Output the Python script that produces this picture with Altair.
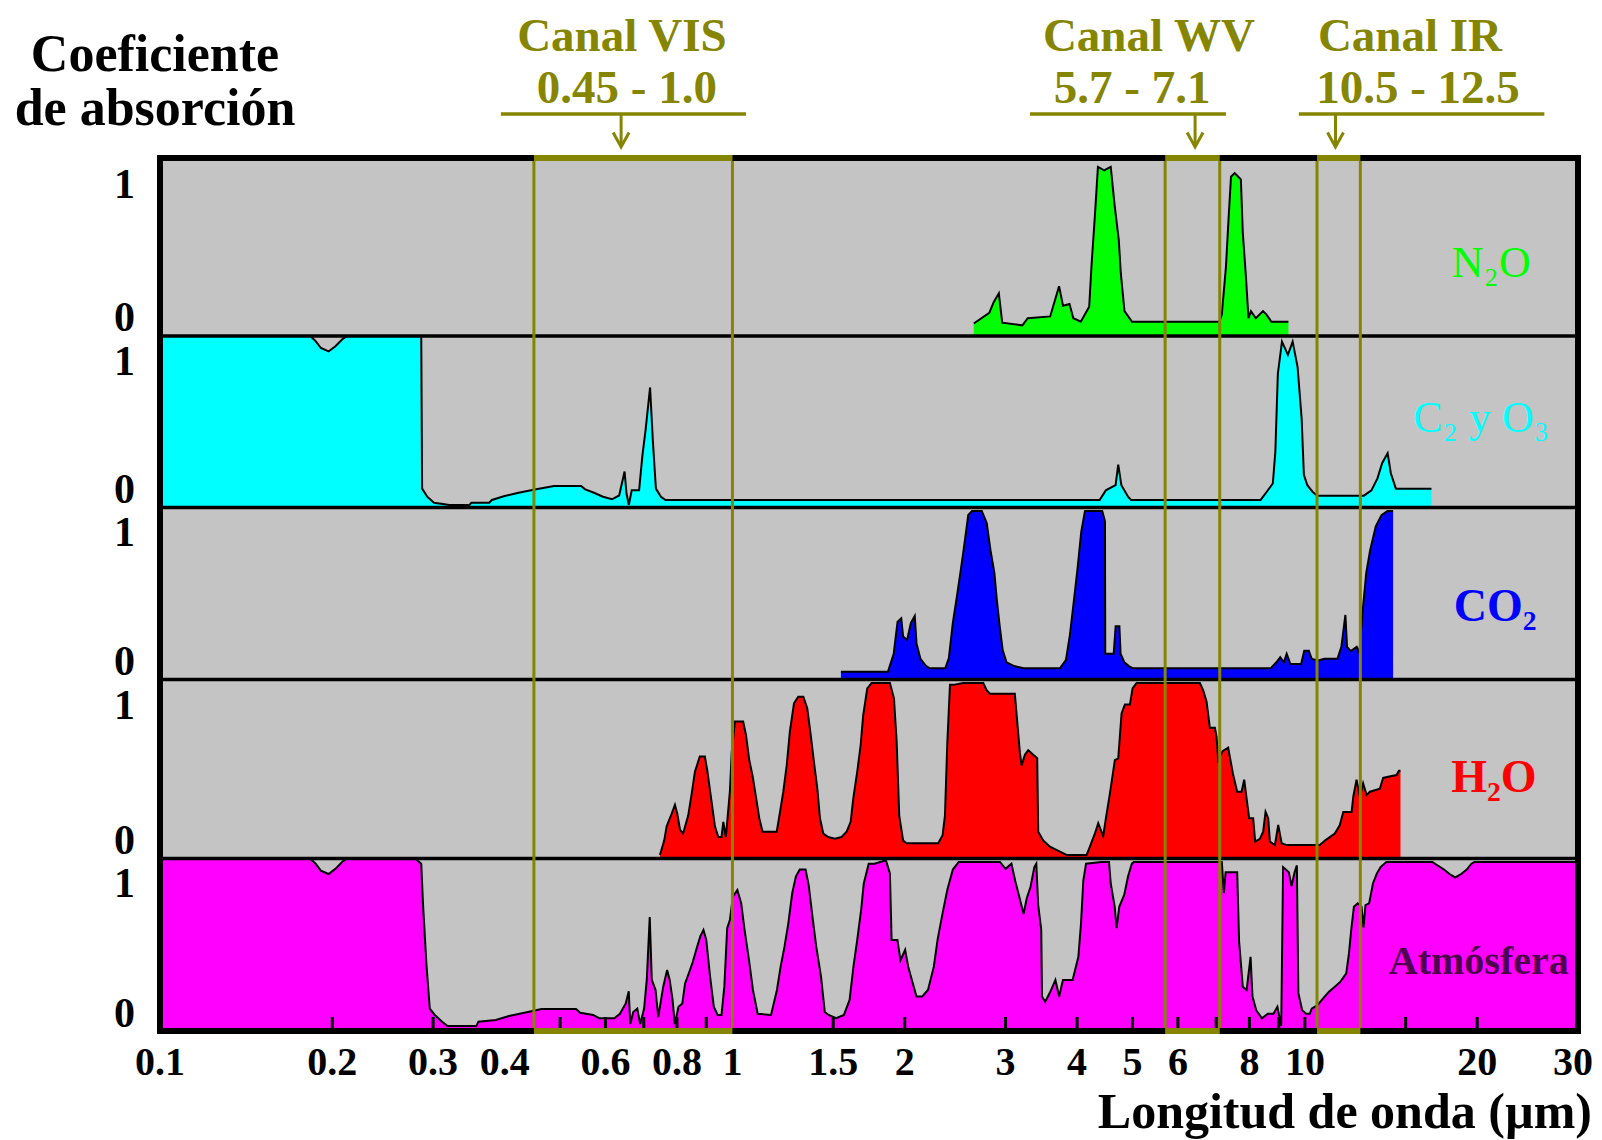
import altair as alt
import pandas as pd

# ---------------- data ----------------
# wavelength (micrometres) and absorption coefficient (0..1) per panel
n2o_wl = [2.64, 2.81, 2.86, 2.92, 2.96, 3.21, 3.28, 3.59, 3.72, 3.78,
          3.88, 3.94, 4.06, 4.20, 4.24, 4.30, 4.35, 4.46, 4.58, 4.65,
          4.73, 4.77, 4.84, 4.99, 7.09, 7.16, 7.28, 7.36, 7.43, 7.54,
          7.65, 7.73, 7.79, 7.89, 7.97, 8.05, 8.21, 8.45, 8.57, 8.74,
          9.36]
n2o_ab = [0.07, 0.13, 0.19, 0.24, 0.075, 0.06, 0.10, 0.11, 0.28, 0.17,
          0.18, 0.10, 0.08, 0.165, 0.40, 0.69, 0.95, 0.93, 0.95, 0.74,
          0.54, 0.35, 0.14, 0.08, 0.08, 0.12, 0.39, 0.67, 0.895, 0.915,
          0.895, 0.88, 0.58, 0.33, 0.10, 0.14, 0.10, 0.14, 0.12, 0.08,
          0.08]

o3_wl = [0.1, 0.183, 0.187, 0.191, 0.197, 0.2025, 0.208, 0.212, 0.286, 0.287,
         0.293, 0.301, 0.312, 0.32, 0.347, 0.35, 0.376, 0.38, 0.40, 0.423,
         0.454, 0.488, 0.544, 0.553, 0.573, 0.594, 0.616, 0.634, 0.648, 0.653,
         0.659, 0.667, 0.687, 0.696, 0.705, 0.718, 0.726, 0.735, 0.75, 0.764,
         4.38, 4.49, 4.67, 4.72, 4.78, 4.91, 4.97, 8.37, 8.54, 8.79,
         8.88, 8.97, 9.12, 9.34, 9.52, 9.71, 9.87, 9.96, 10.1, 10.31,
         10.51, 12.68, 13.07, 13.39, 13.65, 13.95, 14.13, 14.42, 16.64]
o3_ab = [1.0, 1.0, 0.97, 0.93, 0.91, 0.94, 0.98, 1.0, 1.0, 0.11,
         0.063, 0.028, 0.02, 0.015, 0.015, 0.028, 0.028, 0.044, 0.067, 0.086,
         0.106, 0.125, 0.125, 0.106, 0.086, 0.063, 0.048, 0.07, 0.21, 0.083,
         0.015, 0.1, 0.1, 0.30, 0.45, 0.70, 0.39, 0.11, 0.063, 0.044,
         0.044, 0.10, 0.13, 0.25, 0.13, 0.063, 0.044, 0.044, 0.083, 0.14,
         0.325, 0.78, 0.967, 0.89, 0.967, 0.82, 0.52, 0.19, 0.13, 0.092,
         0.069, 0.069, 0.10, 0.17, 0.26, 0.316, 0.2, 0.11, 0.11]

co2_wl = [1.547, 1.869, 1.913, 1.943, 1.972, 1.987, 2.019, 2.05, 2.082, 2.097,
          2.13, 2.18, 2.213, 2.354, 2.388, 2.427, 2.466, 2.504, 2.543, 2.582,
          2.622, 2.726, 2.781, 2.824, 2.868, 2.897, 2.93, 2.966, 3.012, 3.106,
          3.228, 3.733, 3.824, 3.883, 3.943, 4.006, 4.068, 4.129, 4.426, 4.475,
          4.48, 4.635, 4.671, 4.742, 4.765, 4.838, 4.927, 5.007, 8.712, 8.917,
          9.056, 9.19, 9.294, 9.436, 9.85, 9.975, 10.16, 10.28, 10.56, 10.81,
          11.40, 11.58, 11.77, 11.85, 12.03, 12.32, 12.45, 12.61, 12.80, 13.00,
          13.30, 13.61, 13.94, 14.26]
co2_ab = [0.045, 0.045, 0.15, 0.336, 0.356, 0.25, 0.23, 0.33, 0.37, 0.21,
          0.12, 0.078, 0.065, 0.065, 0.125, 0.33, 0.48, 0.63, 0.79, 0.956,
          0.98, 0.98, 0.91, 0.75, 0.62, 0.46, 0.31, 0.17, 0.10, 0.078,
          0.065, 0.065, 0.113, 0.25, 0.44, 0.64, 0.86, 0.98, 0.98, 0.92,
          0.15, 0.15, 0.31, 0.31, 0.15, 0.10, 0.078, 0.065, 0.065, 0.10,
          0.13, 0.10, 0.15, 0.09, 0.09, 0.167, 0.167, 0.12, 0.11, 0.12,
          0.12, 0.19, 0.375, 0.19, 0.165, 0.19, 0.15, 0.39, 0.62, 0.75,
          0.89, 0.956, 0.98, 0.98]

h2o_wl = [0.747, 0.76, 0.7675, 0.783, 0.7935, 0.801, 0.81, 0.82, 0.837, 0.849,
          0.86, 0.877, 0.895, 0.904, 0.916, 0.932, 0.9445, 0.957, 0.964, 0.974,
          0.99, 0.997, 1.01, 1.044, 1.056, 1.07, 1.085, 1.099, 1.114, 1.129,
          1.195, 1.211, 1.227, 1.244, 1.26, 1.281, 1.303, 1.33, 1.351, 1.37,
          1.388, 1.407, 1.422, 1.441, 1.47, 1.51, 1.551, 1.583, 1.609, 1.626,
          1.652, 1.675, 1.692, 1.72, 1.75, 1.884, 1.915, 1.936, 1.956, 1.987,
          2.015, 2.288, 2.329, 2.351, 2.373, 2.399, 2.431, 2.53, 2.743, 2.78,
          2.818, 3.114, 3.144, 3.178, 3.20, 3.243, 3.286, 3.407, 3.421, 3.491,
          3.586, 3.733, 3.835, 4.157, 4.212, 4.298, 4.355, 4.443, 4.492, 4.565,
          4.657, 4.72, 4.784, 4.849, 4.947, 5.0, 5.082, 6.555, 6.643, 6.734,
          6.824, 6.963, 7.01, 7.056, 7.181, 7.345, 7.495, 7.617, 7.752, 7.834,
          7.91, 7.992, 8.122, 8.188, 8.344, 8.456, 8.537, 8.628, 8.688, 8.864,
          8.983, 9.107, 9.292, 10.62, 10.84, 11.28, 11.51, 11.67, 12.07, 12.15,
          12.31, 12.48, 12.64, 12.82, 12.99, 13.52, 13.70, 13.98, 14.46, 14.60,
          14.69]
h2o_ab = [0.02, 0.10, 0.18, 0.25, 0.30, 0.25, 0.16, 0.14, 0.24, 0.364,
          0.485, 0.57, 0.57, 0.49, 0.355, 0.18, 0.12, 0.12, 0.205, 0.12,
          0.38, 0.59, 0.765, 0.765, 0.69, 0.55, 0.457, 0.345, 0.225, 0.15,
          0.15, 0.26, 0.373, 0.52, 0.71, 0.867, 0.904, 0.904, 0.84, 0.69,
          0.54, 0.39, 0.225, 0.14, 0.12, 0.11, 0.12, 0.15, 0.205, 0.336,
          0.485, 0.634, 0.80, 0.95, 0.98, 0.98, 0.895, 0.65, 0.24, 0.10,
          0.085, 0.085, 0.13, 0.24, 0.64, 0.97, 0.97, 0.98, 0.98, 0.94,
          0.92, 0.92, 0.765, 0.59, 0.52, 0.58, 0.605, 0.56, 0.15, 0.10,
          0.066, 0.038, 0.02, 0.02, 0.066, 0.14, 0.197, 0.125, 0.225, 0.364,
          0.55, 0.56, 0.81, 0.86, 0.86, 0.95, 0.98, 0.98, 0.94, 0.876,
          0.73, 0.73, 0.68, 0.55, 0.60, 0.62, 0.466, 0.373, 0.373, 0.44,
          0.336, 0.225, 0.225, 0.094, 0.11, 0.15, 0.26, 0.225, 0.094, 0.075,
          0.187, 0.085, 0.075, 0.075, 0.10, 0.14, 0.187, 0.26, 0.26, 0.345,
          0.44, 0.345, 0.42, 0.355, 0.373, 0.39, 0.45, 0.457, 0.466, 0.49,
          0.49]

atm_wl = [0.1, 0.183, 0.187, 0.191, 0.197, 0.2025, 0.208, 0.212, 0.279, 0.286,
          0.288, 0.292, 0.296, 0.302, 0.311, 0.318, 0.357, 0.36, 0.386, 0.407,
          0.433, 0.464, 0.533, 0.542, 0.571, 0.585, 0.622, 0.636, 0.651, 0.659,
          0.663, 0.671, 0.682, 0.69, 0.701, 0.7085, 0.717, 0.723, 0.734, 0.742,
          0.757, 0.769, 0.777, 0.786, 0.793, 0.805, 0.8175, 0.8265, 0.839, 0.8525,
          0.866, 0.879, 0.89, 0.90, 0.914, 0.928, 0.942, 0.957, 0.968, 0.979,
          0.99, 1.002, 1.02, 1.036, 1.049, 1.069, 1.086, 1.107, 1.168, 1.196,
          1.214, 1.233, 1.252, 1.272, 1.291, 1.311, 1.342, 1.359, 1.38, 1.401,
          1.428, 1.45, 1.472, 1.518, 1.566, 1.602, 1.627, 1.652, 1.678, 1.696,
          1.73, 1.77, 1.854, 1.884, 1.897, 1.942, 1.966, 2.003, 2.028, 2.058,
          2.097, 2.146, 2.196, 2.248, 2.282, 2.329, 2.373, 2.427, 2.485, 2.933,
          3.001, 3.072, 3.119, 3.158, 3.191, 3.226, 3.267, 3.317, 3.368, 3.395,
          3.421, 3.463, 3.474, 3.518, 3.583, 3.666, 3.722, 3.779, 3.929, 4.021,
          4.064, 4.101, 4.147, 4.41, 4.548, 4.58, 4.654, 4.689, 4.74, 4.836,
          4.911, 4.986, 5.026, 7.16, 7.22, 7.27, 7.617, 7.675, 7.79, 7.912,
          8.037, 8.10, 8.224, 8.415, 8.613, 8.813, 8.954, 9.092, 9.161, 9.377,
          9.476, 9.594, 9.683, 9.741, 9.892, 10.05, 10.20, 10.28, 10.52, 10.77,
          11.02, 11.28, 11.54, 11.81, 11.94, 12.05, 12.18, 12.37, 12.56, 12.66,
          12.76, 12.95, 13.15, 13.36, 13.56, 13.88, 16.7, 16.96, 17.5, 17.89,
          18.31, 18.75, 19.18, 19.54, 19.78, 30.0]
atm_ab = [1.0, 1.0, 0.97, 0.93, 0.91, 0.94, 0.98, 1.0, 1.0, 0.97,
          0.74, 0.39, 0.13, 0.093, 0.054, 0.029, 0.029, 0.054, 0.064, 0.087,
          0.106, 0.128, 0.128, 0.106, 0.093, 0.074, 0.074, 0.10, 0.16, 0.23,
          0.04, 0.11, 0.13, 0.04, 0.13, 0.296, 0.66, 0.296, 0.238, 0.08,
          0.257, 0.354, 0.296, 0.18, 0.04, 0.14, 0.16, 0.276, 0.334, 0.40,
          0.48, 0.55, 0.586, 0.53, 0.315, 0.14, 0.093, 0.093, 0.257, 0.596,
          0.645, 0.78, 0.817, 0.74, 0.596, 0.41, 0.238, 0.10, 0.093, 0.238,
          0.373, 0.489, 0.624, 0.80, 0.897, 0.936, 0.936, 0.846, 0.66, 0.489,
          0.315, 0.11, 0.093, 0.074, 0.093, 0.18, 0.373, 0.528, 0.70, 0.855,
          0.97, 0.97, 0.99, 0.914, 0.528, 0.528, 0.41, 0.47, 0.373, 0.296,
          0.20, 0.20, 0.238, 0.373, 0.528, 0.683, 0.817, 0.936, 0.98, 0.98,
          0.94, 0.97, 0.87, 0.80, 0.74, 0.68, 0.77, 0.836, 0.95, 0.97,
          0.73, 0.586, 0.20, 0.17, 0.22, 0.296, 0.20, 0.296, 0.296, 0.43,
          0.624, 0.87, 0.97, 0.98, 0.98, 0.855, 0.72, 0.596, 0.72, 0.79,
          0.897, 0.97, 0.98, 0.98, 0.80, 0.92, 0.92, 0.52, 0.257, 0.238,
          0.43, 0.20, 0.12, 0.074, 0.10, 0.10, 0.14, 0.03, 0.95, 0.92,
          0.84, 0.92, 0.96, 0.22, 0.12, 0.10, 0.10, 0.13, 0.15, 0.19,
          0.228, 0.257, 0.286, 0.334, 0.45, 0.586, 0.72, 0.74, 0.72, 0.60,
          0.73, 0.74, 0.855, 0.914, 0.95, 0.98, 0.98, 0.965, 0.936, 0.91,
          0.89, 0.91, 0.936, 0.97, 0.98, 0.98]

# panels, from top to bottom
panel_offset = [4, 3, 2, 1, 0]
panel_fill = ["#00ff00", "#00ffff", "#0000ff", "#ff0000", "#ff00ff"]
species_text = ["N₂O", "C₂ y O₃", "CO₂", "H₂O", "Atmósfera"]
species_color = ["#00ff00", "#00ffff", "#0000ff", "#ff0000", "#500050"]
species_weight = ["normal", "normal", "bold", "bold", "bold"]
species_size = [44, 44, 46, 46, 40]
label_wl = [24.8, 26.7, 25.4, 25.4, 28.9]
label_frac = [0.33, 0.44, 0.34, 0.37, 0.33]

ytick_text = ["1", "0"]
ytick_frac = [0.85, 0.10]

# x axis
tick_values = [0.1, 0.2, 0.3, 0.4, 0.6, 0.8, 1, 1.5, 2, 3, 4, 5, 6, 8, 10, 20, 30]
tick_text = ["0.1", "0.2", "0.3", "0.4", "0.6", "0.8", "1", "1.5", "2", "3", "4",
             "5", "6", "8", "10", "20", "30"]
minor_ticks = [0.2, 0.3, 0.5, 0.6, 0.7, 0.8, 0.9, 1, 1.5, 2, 3, 4, 5, 6, 7, 8, 9, 10, 15, 20]
x_title = "Longitud de onda (µm)"

# satellite channels
channel_title = ["Canal VIS", "Canal WV", "Canal IR"]
channel_range = ["0.45 - 1.0", "5.7 - 7.1", "10.5 - 12.5"]
channel_lo = [0.45, 5.7, 10.5]
channel_hi = [1.0, 7.1, 12.5]
title_wl = [0.641, 5.34, 15.26]
range_wl = [0.654, 4.99, 15.76]
underline_lo = [0.394, 3.31, 9.76]
underline_hi = [1.056, 7.28, 26.2]
arrow_wl = [0.639, 6.43, 11.31]

# ---------------- style ----------------
FONT = "Liberation Serif"
OLIVE = "#858500"
GRAY = "#c4c4c4"
W, H = 1418, 873

xscale = alt.Scale(type="log", domain=[0.1, 30], nice=False)
# stacked panels (slightly unequal heights, as in the original drawing)
yscale = alt.Scale(domain=[0, 1, 2, 3, 4, 5], range=[873, 700.5, 521.5, 349.5, 178, 0],
                   nice=False, zero=False)


def X(field="wl"):
    return alt.X(f"{field}:Q", scale=xscale, axis=None)


def Y(field):
    return alt.Y(f"{field}:Q", scale=yscale, axis=None)


layers = []
series = [(n2o_wl, n2o_ab), (o3_wl, o3_ab), (co2_wl, co2_ab), (h2o_wl, h2o_ab), (atm_wl, atm_ab)]
for (wl, ab), off, col in zip(series, panel_offset, panel_fill):
    df = pd.DataFrame({"wl": wl, "top": [off + a for a in ab], "base": [float(off)] * len(wl)})
    base = alt.Chart(df)
    layers.append(base.mark_area(color=col, opacity=1).encode(
        x=X(), y=Y("top"), y2="base:Q"))
    layers.append(base.mark_line(color="black", strokeWidth=2).encode(x=X(), y=Y("top")))

# inner tick marks along the bottom
layers.append(alt.Chart(pd.DataFrame({"wl": minor_ticks})).mark_rule(
    color="black", strokeWidth=3).encode(x=X(), y=alt.value(859), y2=alt.value(H)))

# panel dividers
layers.append(alt.Chart(pd.DataFrame({"pos": panel_offset[:-1]})).mark_rule(
    color="black", strokeWidth=3.5).encode(y=Y("pos")))

# channel boxes
ch = pd.DataFrame({"lo": channel_lo, "hi": channel_hi, "title": channel_title,
                   "range": channel_range, "twl": title_wl, "rwl": range_wl,
                   "ulo": underline_lo, "uhi": underline_hi, "awl": arrow_wl})
chb = alt.Chart(ch)
layers.append(chb.mark_rect(fillOpacity=0, stroke=OLIVE, strokeWidth=3).encode(
    x=X("lo"), x2="hi:Q", y=alt.value(0), y2=alt.value(H)))

# frame
one = alt.Chart(pd.DataFrame({"k": [0]}))
layers.append(one.mark_rect(fillOpacity=0, stroke="black", strokeWidth=6).encode(
    x=alt.value(0), x2=alt.value(W), y=alt.value(0), y2=alt.value(H)))

# olive box edges over the frame
for yy in (0, H):
    layers.append(chb.mark_rule(color=OLIVE, strokeWidth=6).encode(
        x=X("lo"), x2="hi:Q", y=alt.value(yy)))

# x tick labels (last one kept inside the page) and axis title
ticks_df = pd.DataFrame({"wl": tick_values, "t": tick_text})
layers.append(alt.Chart(ticks_df.iloc[:-1]).mark_text(
    font=FONT, fontSize=40, fontWeight="bold", color="black", align="center",
    baseline="alphabetic").encode(x=X(), y=alt.value(917), text="t:N"))
layers.append(alt.Chart(ticks_df.iloc[-1:]).mark_text(
    font=FONT, fontSize=40, fontWeight="bold", color="black", align="right", dx=15,
    baseline="alphabetic").encode(x=X(), y=alt.value(917), text="t:N"))
layers.append(one.mark_text(text=x_title, font=FONT, fontSize=50, fontWeight="bold",
                            color="black", align="right", baseline="alphabetic").encode(
    x=alt.value(1432), y=alt.value(970)))

# y labels "1" / "0" for each panel
yl = pd.DataFrame({"t": [t for off in panel_offset for t in ytick_text],
                   "y": [off + f for off in panel_offset for f in ytick_frac]})
layers.append(alt.Chart(yl).mark_text(
    font=FONT, fontSize=42, fontWeight="bold", align="right", baseline="middle",
    color="black").encode(x=alt.value(-25), y=Y("y"), text="t:N"))

# species labels
for txt, c, fw, fs, lw, lf, off in zip(species_text, species_color, species_weight,
                                       species_size, label_wl, label_frac, panel_offset):
    d = pd.DataFrame({"t": [txt], "wl": [lw], "y": [off + lf]})
    layers.append(alt.Chart(d).mark_text(
        font=FONT, fontSize=fs, fontWeight=fw, color=c, align="right",
        baseline="alphabetic").encode(x=X(), y=Y("y"), text="t:N"))

# channel annotations
layers.append(chb.mark_text(font=FONT, fontSize=47, fontWeight="bold", color=OLIVE,
                            align="center", baseline="alphabetic").encode(
    x=X("twl"), y=alt.value(-107), text="title:N"))
layers.append(chb.mark_text(font=FONT, fontSize=47, fontWeight="bold", color=OLIVE,
                            align="center", baseline="alphabetic").encode(
    x=X("rwl"), y=alt.value(-55), text="range:N"))
layers.append(chb.mark_rule(color=OLIVE, strokeWidth=3.5).encode(
    x=X("ulo"), x2="uhi:Q", y=alt.value(-44)))
layers.append(chb.mark_rule(color=OLIVE, strokeWidth=3).encode(
    x=X("awl"), y=alt.value(-43), y2=alt.value(-12)))
layers.append(chb.mark_point(shape="M -0.55 0 L 0 1 L 0.55 0", size=841, filled=False,
                             stroke=OLIVE, strokeWidth=3, opacity=1).encode(
    x=X("awl"), y=alt.value(-25.5)))

# y title
for txt, yy in (("Coeficiente", -87), ("de absorción", -33)):
    layers.append(one.mark_text(text=txt, font=FONT, fontSize=52, fontWeight="bold",
                                color="black", align="center", baseline="alphabetic").encode(
        x=alt.value(-5), y=alt.value(yy)))

chart = alt.layer(*layers).properties(
    width=W, height=H,
    autosize=alt.AutoSizeParams(type="none"),
    padding={"left": 152, "top": 150, "right": 16, "bottom": 109},
    background="white",
).configure_view(fill=GRAY, stroke=None)

chart.save("out.html", embed_options={"renderer": "svg", "actions": False})
